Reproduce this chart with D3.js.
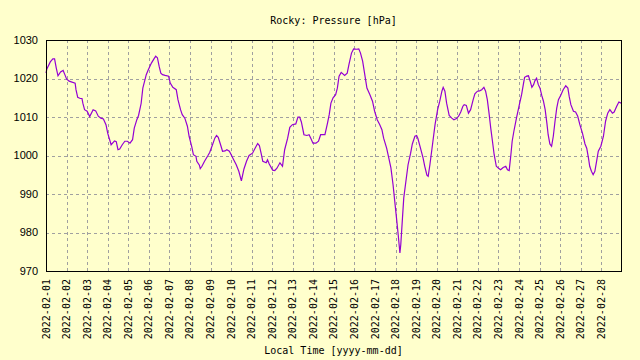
<html>
<head>
<script src="https://d3js.org/d3.v7.min.js"></script>
</head>
<style>
body { margin: 0; background: #ffffcc; }
svg { display: block; }
.ttl { font-family: "DejaVu Sans Mono", monospace; font-size: 10px; fill: black; }
.ytk { font-family: "Liberation Sans", Arial, sans-serif; font-size: 11px; fill: black; }
</style>
<body>
<svg id="chart" width="640" height="360"></svg>

<script>
// pressure samples (local time, hPa)
var times = [
"2022-02-01 00:00","2022-02-01 01:00","2022-02-01 05:00","2022-02-01 08:00","2022-02-01 10:00","2022-02-01 12:00","2022-02-01 14:00","2022-02-01 17:00","2022-02-01 20:00","2022-02-01 22:00",
"2022-02-02 00:00","2022-02-02 03:00","2022-02-02 10:00","2022-02-02 11:00","2022-02-02 13:00","2022-02-02 16:00","2022-02-02 18:00","2022-02-02 19:00","2022-02-02 21:00",
"2022-02-03 00:00","2022-02-03 03:00","2022-02-03 07:00","2022-02-03 10:00","2022-02-03 13:00","2022-02-03 16:00","2022-02-03 19:00","2022-02-03 22:00",
"2022-02-04 00:00","2022-02-04 04:00","2022-02-04 08:00","2022-02-04 10:00","2022-02-04 12:00","2022-02-04 14:00","2022-02-04 17:00","2022-02-04 20:00","2022-02-04 23:00",
"2022-02-05 02:00","2022-02-05 05:00","2022-02-05 07:00","2022-02-05 10:00","2022-02-05 12:00","2022-02-05 15:00","2022-02-05 17:00","2022-02-05 21:00","2022-02-05 23:00",
"2022-02-06 03:00","2022-02-06 06:00","2022-02-06 08:00","2022-02-06 10:00","2022-02-06 12:00","2022-02-06 14:00","2022-02-06 16:00","2022-02-06 19:00","2022-02-06 23:00",
"2022-02-07 01:00","2022-02-07 04:00","2022-02-07 08:00","2022-02-07 10:00","2022-02-07 13:00","2022-02-07 15:00","2022-02-07 18:00","2022-02-07 21:00","2022-02-07 23:00",
"2022-02-08 02:00","2022-02-08 04:00","2022-02-08 07:00","2022-02-08 08:00","2022-02-08 11:00","2022-02-08 12:00","2022-02-08 14:00","2022-02-08 17:00","2022-02-08 21:00","2022-02-08 23:00",
"2022-02-09 02:00","2022-02-09 05:00","2022-02-09 07:00","2022-02-09 09:00","2022-02-09 12:00","2022-02-09 14:00","2022-02-09 17:00","2022-02-09 19:00","2022-02-09 22:00",
"2022-02-10 01:00","2022-02-10 03:00","2022-02-10 06:00","2022-02-10 09:00","2022-02-10 12:00","2022-02-10 15:00","2022-02-10 18:00","2022-02-10 21:00",
"2022-02-11 01:00","2022-02-11 04:00","2022-02-11 07:00","2022-02-11 09:00","2022-02-11 11:00","2022-02-11 13:00","2022-02-11 17:00","2022-02-11 18:30","2022-02-11 20:30",
"2022-02-12 00:30","2022-02-12 03:00","2022-02-12 05:30","2022-02-12 09:00","2022-02-12 12:00","2022-02-12 14:30","2022-02-12 18:00","2022-02-12 20:30","2022-02-12 23:30",
"2022-02-13 03:30","2022-02-13 06:00","2022-02-13 08:00","2022-02-13 10:00","2022-02-13 13:00","2022-02-13 16:30","2022-02-13 19:00","2022-02-13 21:00","2022-02-13 23:30",
"2022-02-14 03:00","2022-02-14 06:00","2022-02-14 08:30","2022-02-14 13:30","2022-02-14 16:30","2022-02-14 18:30","2022-02-14 20:30","2022-02-14 23:00",
"2022-02-15 02:00","2022-02-15 04:00","2022-02-15 06:00","2022-02-15 08:30","2022-02-15 12:30","2022-02-15 15:30","2022-02-15 17:30","2022-02-15 20:30","2022-02-15 23:00",
"2022-02-16 02:30","2022-02-16 05:00","2022-02-16 07:00","2022-02-16 09:30","2022-02-16 12:00","2022-02-16 14:30","2022-02-16 18:00","2022-02-16 21:00","2022-02-16 23:30",
"2022-02-17 02:30","2022-02-17 05:30","2022-02-17 08:00","2022-02-17 10:00","2022-02-17 13:30","2022-02-17 16:00","2022-02-17 18:30","2022-02-17 21:00","2022-02-17 23:00",
"2022-02-18 01:00","2022-02-18 03:00","2022-02-18 05:00","2022-02-18 06:00","2022-02-18 08:00","2022-02-18 09:30","2022-02-18 12:00","2022-02-18 14:30","2022-02-18 17:30","2022-02-18 19:30","2022-02-18 22:30",
"2022-02-19 00:30","2022-02-19 02:00","2022-02-19 05:00","2022-02-19 08:00","2022-02-19 10:00","2022-02-19 12:30","2022-02-19 14:00","2022-02-19 16:00","2022-02-19 19:00","2022-02-19 22:00",
"2022-02-20 01:00","2022-02-20 03:30","2022-02-20 06:00","2022-02-20 07:30","2022-02-20 09:30","2022-02-20 11:30","2022-02-20 14:30","2022-02-20 17:30","2022-02-20 20:00","2022-02-20 23:00",
"2022-02-21 01:30","2022-02-21 04:00","2022-02-21 06:30","2022-02-21 08:00","2022-02-21 10:30","2022-02-21 13:00","2022-02-21 15:30","2022-02-21 18:30","2022-02-21 20:30","2022-02-21 23:30",
"2022-02-22 02:00","2022-02-22 04:30","2022-02-22 07:00","2022-02-22 09:00","2022-02-22 11:00","2022-02-22 13:00","2022-02-22 15:00","2022-02-22 17:00","2022-02-22 19:00","2022-02-22 21:30",
"2022-02-23 00:30","2022-02-23 02:30","2022-02-23 05:30","2022-02-23 08:30","2022-02-23 10:30","2022-02-23 12:30","2022-02-23 14:30","2022-02-23 16:00","2022-02-23 18:00","2022-02-23 21:00",
"2022-02-24 00:00","2022-02-24 03:00","2022-02-24 05:00","2022-02-24 06:30","2022-02-24 09:00","2022-02-24 11:00","2022-02-24 13:00","2022-02-24 15:00","2022-02-24 17:00","2022-02-24 18:30","2022-02-24 20:30","2022-02-24 22:30",
"2022-02-25 00:30","2022-02-25 02:30","2022-02-25 04:30","2022-02-25 06:30","2022-02-25 08:30","2022-02-25 10:00","2022-02-25 12:00","2022-02-25 14:00","2022-02-25 16:00","2022-02-25 18:00","2022-02-25 20:00","2022-02-25 22:00",
"2022-02-26 01:00","2022-02-26 03:30","2022-02-26 06:30","2022-02-26 09:00","2022-02-26 10:30","2022-02-26 12:30","2022-02-26 15:30","2022-02-26 18:00","2022-02-26 20:30","2022-02-26 23:00",
"2022-02-27 02:00","2022-02-27 05:00","2022-02-27 07:00","2022-02-27 09:00","2022-02-27 10:30","2022-02-27 12:30","2022-02-27 14:30","2022-02-27 16:30","2022-02-27 18:30","2022-02-27 20:30","2022-02-27 23:30",
"2022-02-28 02:30","2022-02-28 05:00","2022-02-28 07:30","2022-02-28 10:00","2022-02-28 13:00","2022-02-28 15:00","2022-02-28 18:00","2022-02-28 20:30","2022-02-28 23:00"
];
var pressure = [
1021.4,1022.5,1024.3,1025.1,1025.1,1022.7,1020.7,1021.7,1022.1,1021.0,
1019.9,1019.3,1018.8,1017.1,1015.1,1014.8,1014.8,1013.6,1011.9,
1011.5,1010.1,1011.9,1011.6,1010.2,1009.7,1009.5,1008.0,
1005.8,1002.8,1003.8,1003.6,1001.5,1001.7,1002.8,1003.7,1003.7,
1003.2,1004.1,1007.1,1009.3,1010.4,1013.5,1017.5,1021.0,1022.1,
1024.0,1025.1,1025.8,1025.4,1023.2,1021.4,1021.0,1020.8,1020.6,
1018.8,1017.7,1017.1,1014.5,1011.9,1010.6,1009.7,1007.6,1005.0,
1002.4,1000.2,999.8,998.5,997.5,996.6,997.2,998.5,1000.0,1000.8,
1002.6,1004.5,1005.2,1004.7,1002.6,1001.1,1001.2,1001.5,1001.1,
999.8,998.9,997.6,995.9,993.4,996.5,998.5,1000.0,
1000.6,1001.9,1003.1,1002.6,1000.6,998.5,998.1,998.9,997.8,
996.2,996.1,996.7,998.1,997.2,1001.5,1004.5,1007.3,1008.0,
1008.2,1010.0,1010.0,1008.7,1005.4,1005.2,1005.4,1004.5,1003.2,
1003.2,1003.7,1005.4,1005.4,1008.4,1010.6,1013.6,1015.0,
1015.8,1017.5,1020.6,1021.6,1020.8,1021.4,1023.6,1026.6,1027.7,
1027.6,1027.7,1026.6,1024.5,1021.0,1017.5,1015.8,1014.1,1011.5,
1009.3,1008.0,1006.7,1004.5,1001.9,999.4,996.8,992.4,988.1,
983.8,979.4,974.7,976.8,983.8,989.0,993.3,997.6,1000.6,1003.0,1005.0,
1005.2,1004.4,1001.9,999.4,997.2,994.9,994.6,997.6,1002.8,1008.0,
1011.9,1014.1,1016.7,1017.7,1016.7,1013.6,1010.4,1009.7,1009.3,1009.6,
1010.2,1011.3,1012.8,1013.2,1013.0,1011.0,1011.9,1014.5,1016.0,1016.7,
1016.8,1017.1,1017.7,1016.7,1014.5,1011.0,1007.1,1003.7,1000.2,997.2,
996.6,996.3,996.9,997.2,996.3,996.1,1000.2,1003.7,1006.3,1009.7,
1012.8,1015.8,1018.4,1020.3,1020.6,1020.7,1019.3,1017.7,1018.4,1019.4,1020.1,1018.4,
1017.5,1015.6,1014.1,1011.9,1008.4,1005.4,1003.0,1002.4,1005.0,1008.9,1012.3,1014.5,
1015.8,1017.1,1018.1,1017.5,1015.4,1013.2,1011.5,1011.3,1010.2,1008.0,
1005.8,1003.0,1001.9,999.4,997.2,995.9,995.0,995.9,998.5,1001.1,1002.4,
1005.0,1008.9,1011.0,1011.9,1011.0,1011.3,1012.8,1013.9,1013.6
];
var yTicks = [970, 980, 990, 1000, 1010, 1020, 1030];
var title = "Rocky: Pressure [hPa]";
var xTitle = "Local Time [yyyy-mm-dd]";

var padLeft = 46, padRight = 621, padTop = 40, padBottom = 271;
var parseTime = d3.timeParse("%Y-%m-%d %H:%M");
var fmtDay = d3.timeFormat("%Y-%m-%d");

var data = times.map(function(t, i){ return {t: parseTime(t), v: pressure[i]}; });

var svg = d3.select("#chart");

var xScale = d3.scaleTime().domain(d3.extent(data, function(d){ return d.t; })).range([padLeft, padRight]);
var yScale = d3.scaleLinear().domain([970, 1030]).range([padBottom, padTop]);
var dayTicks = d3.timeDay.range(parseTime("2022-02-01 00:00"), parseTime("2022-03-01 00:00"));

svg.append("rect")
.attr("width", 640).attr("height", 360)
.attr("fill", "#ffffcc");

// dashed grid
svg.append("g").selectAll("line").data(yTicks.slice(1, -1))
.enter().append("line")
.attr("x1", padLeft).attr("x2", padRight)
.attr("y1", function(d){ return Math.round(yScale(d)) + 0.5; })
.attr("y2", function(d){ return Math.round(yScale(d)) + 0.5; })
.attr("stroke", "#a0a0a0")
.attr("stroke-dasharray", "3,3");

svg.append("g").selectAll("line").data(dayTicks.slice(1))
.enter().append("line")
.attr("y1", padTop).attr("y2", padBottom)
.attr("x1", function(d){ return Math.round(xScale(d)) + 0.5; })
.attr("x2", function(d){ return Math.round(xScale(d)) + 0.5; })
.attr("stroke", "#a0a0a0")
.attr("stroke-dasharray", "3,3");

// pressure trace
var line = d3.line()
.x(function(d){ return xScale(d.t); })
.y(function(d){ return yScale(d.v); });

svg.append("path")
.datum(data)
.attr("d", line)
.attr("fill", "none")
.attr("stroke", "#9400d3")
.attr("stroke-width", 1.2);

// frame
svg.append("rect")
.attr("x", padLeft + 0.5).attr("y", padTop + 0.5)
.attr("width", padRight - padLeft).attr("height", padBottom - padTop)
.attr("fill", "none")
.attr("stroke", "black")
.attr("stroke-width", 1);

// y labels
svg.append("g").selectAll("text").data(yTicks)
.enter().append("text")
.attr("class", "ytk")
.attr("x", 38)
.attr("y", function(d){ return yScale(d); })
.attr("dy", "0.35em")
.attr("text-anchor", "end")
.text(function(d){ return d; });

// x labels, rotated
svg.append("g").selectAll("text").data(dayTicks)
.enter().append("text")
.attr("class", "ttl")
.attr("transform", function(d){ return "translate(" + xScale(d) + ",279) rotate(-90)"; })
.attr("dy", "0.35em")
.attr("text-anchor", "end")
.text(function(d){ return fmtDay(d); });

svg.append("text")
.attr("class", "ttl")
.attr("x", (padLeft + padRight) / 2).attr("y", 24)
.attr("text-anchor", "middle")
.text(title);

svg.append("text")
.attr("class", "ttl")
.attr("x", (padLeft + padRight) / 2).attr("y", 354)
.attr("text-anchor", "middle")
.text(xTitle);
</script>
</body>
</html>
